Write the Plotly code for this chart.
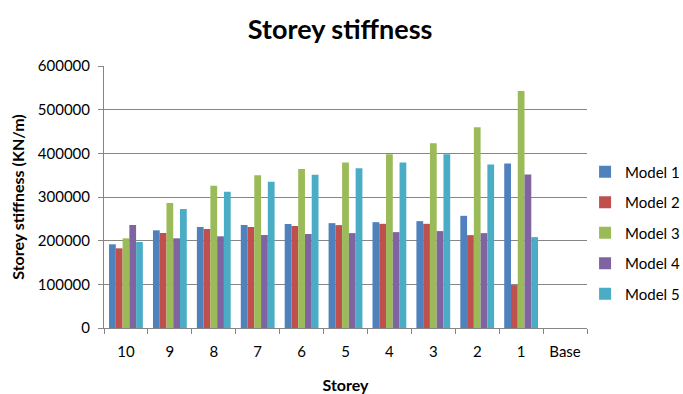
import plotly.graph_objects as go

storeys = ["10", "9", "8", "7", "6", "5", "4", "3", "2", "1", "Base"]
model_1 = [191700, 223700, 231300, 235900, 238200, 240100, 242400, 244700, 256900, 376600, None]
model_2 = [182500, 217600, 226700, 231300, 233600, 235600, 238600, 238600, 212700, 98300, None]
model_3 = [205400, 286300, 325900, 349600, 364100, 378900, 398000, 423100, 459700, 542800, None]
model_4 = [235900, 205400, 210000, 213000, 215300, 217300, 219600, 221900, 217300, 351500, None]
model_5 = [197000, 272500, 312200, 335100, 351100, 366000, 378900, 398000, 374300, 208100, None]

series = [
    ("Model 1", model_1, "#4F81BD"),
    ("Model 2", model_2, "#C0504D"),
    ("Model 3", model_3, "#9BBB59"),
    ("Model 4", model_4, "#8064A2"),
    ("Model 5", model_5, "#4BACC6"),
]

font_family = "Lato, 'Open Sans', sans-serif"

fig = go.Figure()
for name, values, color in series:
    fig.add_trace(go.Bar(
        x=storeys, y=values, name=name, legendgroup=name,
        marker=dict(color=color, line=dict(width=0)),
    ))

fig.update_layout(
    width=683, height=394,
    margin=dict(l=104, r=96, t=66, b=66, autoexpand=False),
    paper_bgcolor="white", plot_bgcolor="white",
    barmode="group", bargap=0.23, bargroupgap=0,
    font=dict(family=font_family, color="#000000", size=15),
    title=dict(text="<b>Storey stiffness</b>", x=0.498, xanchor="center",
               y=0.925, yanchor="middle", font=dict(size=27, family=font_family)),
    legend=dict(x=0.996, y=0.658, xanchor="left", yanchor="top",
                font=dict(size=15, family=font_family), tracegroupgap=8,
                itemwidth=30, bgcolor="rgba(0,0,0,0)"),
    showlegend=True,
)

fig.update_xaxes(
    type="category", tickson="boundaries", ticks="outside", ticklen=5,
    tickcolor="#868686", showline=True, linecolor="#868686", linewidth=1,
    showgrid=False, tickfont=dict(size=15), ticklabelstandoff=10,
    title=dict(text="<b>Storey</b>", font=dict(size=16), standoff=24),
)
fig.update_yaxes(
    range=[0, 600000], dtick=100000, tickformat="d",
    ticks="outside", ticklen=5, tickcolor="#868686",
    showline=True, linecolor="#868686", linewidth=1,
    showgrid=True, gridcolor="#868686", gridwidth=1, zeroline=False,
    tickfont=dict(size=15), ticklabelstandoff=5,
    title=dict(text="<b>Storey stiffness (KN/m)</b>", font=dict(size=16), standoff=9),
)

fig.write_html("out.html")
